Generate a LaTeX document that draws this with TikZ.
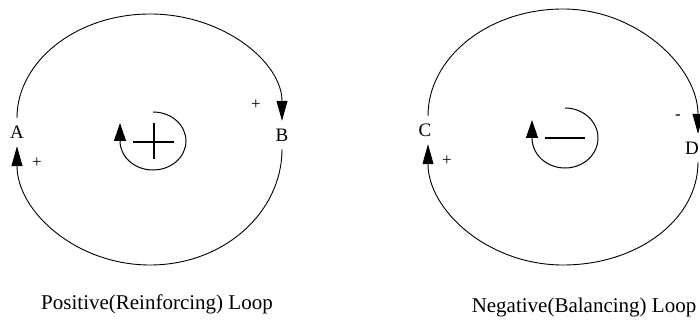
\documentclass[tikz,border=0pt]{standalone}
\usepackage{fontspec}
\setmainfont{Liberation Serif}
\usetikzlibrary{arrows.meta}

\begin{document}
\begin{tikzpicture}[
  x=1pt, y=-1pt,
  var/.style={inner sep=0pt, minimum height=28pt, font=\fontsize{19}{22}\selectfont},
  sign/.style={inner sep=0pt, font=\fontsize{17}{20}\selectfont},
  caption/.style={anchor=base, inner sep=0pt, font=\fontsize{21}{25}\selectfont},
  link/.style={-{Triangle[length=20pt,width=11pt]}, line width=0.9pt},
  loopsym/.style={-{Triangle[length=18pt,width=12pt]}, line width=1pt},
  polarity/.style={line width=2pt}
]
  \useasboundingbox (0,0) rectangle (700,323);

  % positive loop
  \node[var] (A) at (17,132) {A};
  \node[var] (B) at (282,135) {B};
  \coordinate (topAB) at (150,14);
  \coordinate (botBA) at (150,265);
  \draw[link] (A.north) .. controls +(0,-56) and +(-74,0) .. (topAB)
              .. controls +(74,0) and +(0,-58) .. (B.north);
  \draw[link] (B.south) .. controls +(0,63) and +(74,0) .. (botBA)
              .. controls +(-74,0) and +(0,65) .. (A.south);
  \node[sign] (plusAB) at (256,105) {+};
  \node[sign] (plusBA) at (37,163) {+};
  \coordinate (R) at (153,141);
  \draw[loopsym] (R) ++(0,-29) arc[start angle=270, end angle=540, x radius=33, y radius=29] -- ++(0,-18);
  \draw[polarity] (R) ++(-20,1) -- ++(41,0);
  \draw[polarity] (R) ++(1,-18) -- ++(0,36);
  \node[caption] (pos) at (157,309) {Positive(Reinforcing) Loop};

  % negative loop
  \node[var] (C) at (425,130) {C};
  \node[var] (D) at (692,148) {D};
  \coordinate (topCD) at (563,9);
  \coordinate (botDC) at (563,265);
  \draw[link] ([xshift=3pt]C.north) .. controls +(0,-58) and +(-75,0) .. (topCD)
              .. controls +(75,0) and +(0,-66) .. ([xshift=6pt]D.north);
  \draw[link] ([xshift=6pt]D.south) .. controls +(0,57) and +(75,0) .. (botDC)
              .. controls +(-75,0) and +(0,66) .. ([xshift=3pt]C.south);
  \node[sign] (minusCD) at (678,117) {-};
  \node[sign] (plusDC) at (447,161) {+};
  \coordinate (N) at (565,138);
  \draw[loopsym] (N) ++(0,-30) arc[start angle=270, end angle=540, x radius=33, y radius=30] -- ++(0,-18);
  \draw[polarity] (N) ++(-20,0) -- ++(40,0);
  \node[caption] (neg) at (584,312) {Negative(Balancing) Loop};
\end{tikzpicture}
\end{document}
